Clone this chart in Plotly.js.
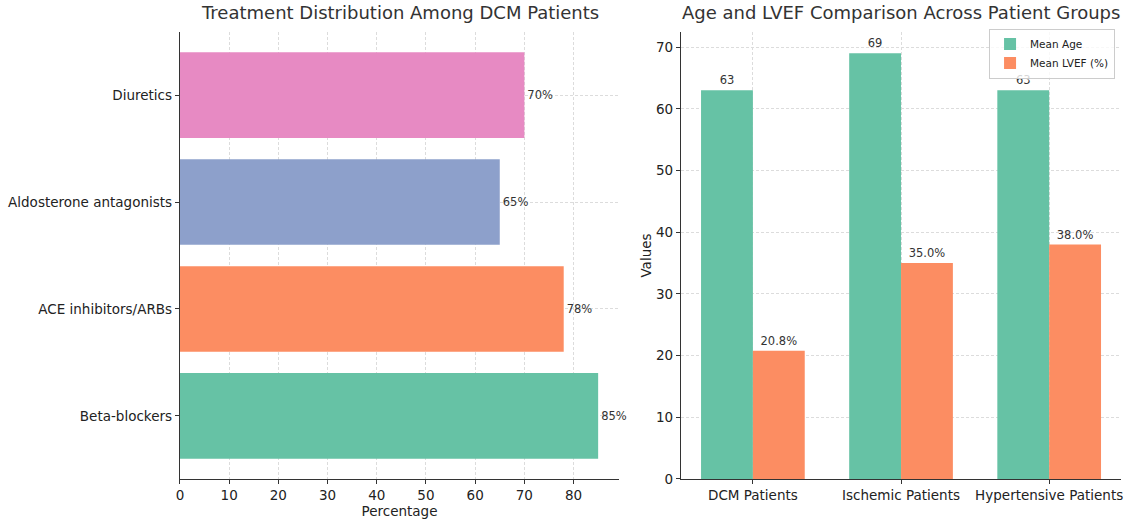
<!DOCTYPE html>
<html>
<head>
<meta charset="utf-8">
<script src="https://cdn.plot.ly/plotly-3.0.1.min.js"></script>
<style>html,body{margin:0;padding:0;background:#fff;}#chart{width:1127px;height:519px;}</style>
</head>
<body>
<div id="chart"></div>
<script>
// Left chart data
const treatments = ["Beta-blockers", "ACE inhibitors/ARBs", "Aldosterone antagonists", "Diuretics"];
const treatmentPct = [85, 78, 65, 70];
const treatmentColors = ["#66c2a5", "#fc8d62", "#8da0cb", "#e78ac3"];

// Right chart data
const groups = ["DCM Patients", "Ischemic Patients", "Hypertensive Patients"];
const meanAge = [63, 69, 63];
const meanLVEF = [20.8, 35.0, 38.0];

const FONT = "DejaVu Sans, Liberation Sans, sans-serif";
const axisCommon = {
  showline: true, linecolor: "#333", linewidth: 1.2,
  ticks: "outside", ticklen: 4, tickcolor: "#333",
  showgrid: true, gridcolor: "#dcdcdc", griddash: "3px,2px", gridwidth: 1,
  zeroline: false, tickfont: {family: FONT, size: 13.5, color: "#222"}
};

const traces = [
  {
    type: "bar", orientation: "h", x: treatmentPct, y: treatments,
    marker: {color: treatmentColors},
    text: treatmentPct.map(v => v + "%"), textposition: "outside",
    textfont: {family: FONT, size: 11.5, color: "#333"}, cliponaxis: false,
    xaxis: "x", yaxis: "y", showlegend: false, width: 0.8
  },
  {
    type: "bar", name: "Mean Age", x: groups, y: meanAge,
    marker: {color: "#66c2a5"},
    text: meanAge.map(v => String(v)), textposition: "outside",
    textfont: {family: FONT, size: 11.5, color: "#333"}, cliponaxis: false,
    xaxis: "x2", yaxis: "y2"
  },
  {
    type: "bar", name: "Mean LVEF (%)", x: groups, y: meanLVEF,
    marker: {color: "#fc8d62"},
    text: meanLVEF.map(v => v.toFixed(1) + "%"), textposition: "outside",
    textfont: {family: FONT, size: 11.5, color: "#333"}, cliponaxis: false,
    xaxis: "x2", yaxis: "y2"
  }
];

const layout = {
  width: 1127, height: 519,
  margin: {l: 0, r: 0, t: 0, b: 0},
  paper_bgcolor: "#fff", plot_bgcolor: "#fff",
  font: {family: FONT, color: "#222"},
  barmode: "group", bargap: 0.3, bargroupgap: 0,
  xaxis: Object.assign({}, axisCommon, {
    domain: [0.1597, 0.5493], range: [0, 89.25], dtick: 10, tick0: 0, anchor: "y",
    title: {text: "Percentage", font: {family: FONT, size: 13.5, color: "#222"}, standoff: 4}
  }),
  yaxis: Object.assign({}, axisCommon, {
    domain: [0.0771, 0.9383], range: [-0.59, 3.59], anchor: "x",
    type: "category", ticklen: 4
  }),
  xaxis2: Object.assign({}, axisCommon, {
    domain: [0.6043, 0.9947], range: [-0.485, 2.485], anchor: "y2", type: "category"
  }),
  yaxis2: Object.assign({}, axisCommon, {
    domain: [0.0771, 0.9383], range: [0, 72.45], dtick: 10, anchor: "x2",
    title: {text: "Values", font: {family: FONT, size: 13.5, color: "#222"}, standoff: 1}
  }),
  legend: {
    x: 0.9894, xanchor: "right", y: 0.945, yanchor: "top",
    bgcolor: "rgba(255,255,255,0.8)", bordercolor: "#ccc", borderwidth: 1,
    font: {family: FONT, size: 10.5, color: "#222"}, tracegroupgap: 0, itemwidth: 30
  },
  annotations: [
    {text: "Treatment Distribution Among DCM Patients", xref: "paper", yref: "paper",
     x: 0.3545, y: 1.0, xanchor: "center", yanchor: "top", showarrow: false,
     font: {family: FONT, size: 18, color: "#333"}},
    {text: "Age and LVEF Comparison Across Patient Groups", xref: "paper", yref: "paper",
     x: 0.7995, y: 1.0, xanchor: "center", yanchor: "top", showarrow: false,
     font: {family: FONT, size: 18, color: "#333"}}
  ]
};

Plotly.newPlot("chart", traces, layout, {displayModeBar: false, staticPlot: true});
</script>
</body>
</html>
